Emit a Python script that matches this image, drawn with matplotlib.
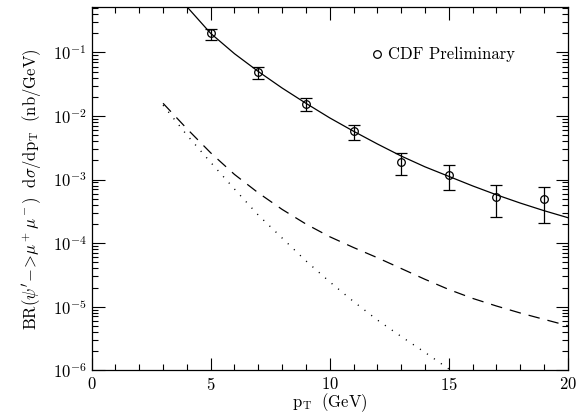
import numpy as np
import matplotlib
matplotlib.use("Agg")
import matplotlib.pyplot as plt
from matplotlib.ticker import LogLocator, MultipleLocator, NullFormatter

plt.rcParams["mathtext.fontset"] = "cm"
plt.rcParams["font.family"] = ["cmr10", "DejaVu Serif"]
plt.rcParams["axes.formatter.use_mathtext"] = True

# CDF data points
pt_data = [5, 7, 9, 11, 13, 15, 17, 19]
y_data = [0.20, 0.0495, 0.0157, 0.00577, 0.00187, 0.00120, 0.00053, 0.00050]
y_hi = [0.238, 0.059, 0.0193, 0.00734, 0.00257, 0.00172, 0.00083, 0.00075]
y_lo = [0.156, 0.038, 0.0119, 0.00416, 0.00116, 0.00068, 0.000258, 0.00021]

# theory curves (log10 values)
pt_solid = [4.0, 4.5, 5, 6, 7, 8, 9, 10, 11, 12, 13, 14, 15, 16, 17, 18, 19, 20]
log_solid = [-0.28, -0.49, -0.70, -1.02, -1.30, -1.56, -1.80, -2.03, -2.24,
             -2.44, -2.63, -2.80, -2.95, -3.10, -3.24, -3.37, -3.49, -3.60]

pt_dash = [3, 4, 5, 6, 7, 8, 9, 10, 11, 12, 13, 14, 15, 16, 17, 18, 19, 20]
log_dash = [-1.80, -2.20, -2.58, -2.92, -3.21, -3.47, -3.70, -3.90, -4.07,
            -4.23, -4.40, -4.57, -4.73, -4.87, -4.99, -5.10, -5.20, -5.30]

pt_dot = [3, 4, 5, 6, 7, 8, 9, 10, 11, 12, 13, 14, 15]
log_dot = [-1.83, -2.30, -2.73, -3.15, -3.56, -3.92, -4.28, -4.61, -4.92,
           -5.21, -5.47, -5.72, -5.98]

fig = plt.figure(figsize=(5.8, 4.15), dpi=100)
ax = fig.add_axes([0.158, 0.108, 0.821, 0.874])

ax.plot(pt_solid, 10 ** np.array(log_solid), color="black", lw=0.9)
ax.plot(pt_dash, 10 ** np.array(log_dash), color="black", lw=0.9,
        dashes=(9.2, 6.4))
ax.plot(pt_dot, 10 ** np.array(log_dot), color="black", lw=1.0,
        dashes=(0.8, 5.3))

yd = np.array(y_data)
err = [yd - np.array(y_lo), np.array(y_hi) - yd]
ax.errorbar(pt_data, yd, yerr=err, fmt="o", mfc="none", mec="black",
            ms=5.5, mew=0.9, ecolor="black", elinewidth=0.9, capsize=4,
            capthick=0.9)

# legend entry
ax.plot([12.0], [10 ** -1.03], "o", mfc="none", mec="black", ms=5.5, mew=0.9)
ax.text(12.45, 10 ** -1.03, "CDF Preliminary", fontsize=12, va="center",
        ha="left")

ax.set_yscale("log")
ax.set_xlim(0, 20)
ax.set_ylim(1e-6, 0.51)
ax.xaxis.set_major_locator(MultipleLocator(5))
ax.xaxis.set_minor_locator(MultipleLocator(1))
ax.yaxis.set_major_locator(LogLocator(base=10, numticks=10))
ax.yaxis.set_minor_locator(LogLocator(base=10, subs=np.arange(2, 10), numticks=10))
ax.yaxis.set_minor_formatter(NullFormatter())

ax.tick_params(which="both", direction="in", top=True, right=True,
               labelsize=12, width=0.8)
ax.tick_params(which="major", length=9)
ax.tick_params(which="minor", length=4)
ax.tick_params(axis="x", pad=4)
for s in ax.spines.values():
    s.set_linewidth(0.9)

ax.set_xlabel(r"$\mathrm{p_T}\ \ \mathrm{(GeV)}$", fontsize=12, labelpad=-1)
ax.set_ylabel(r"$\mathrm{BR}(\psi'\!-\!\!>\!\mu^+\mu^-)\ \ \mathrm{d}\sigma/\mathrm{dp_T}\ \ \mathrm{(nb/GeV)}$",
              fontsize=12, labelpad=6)

fig.savefig("out.png", dpi=100)
